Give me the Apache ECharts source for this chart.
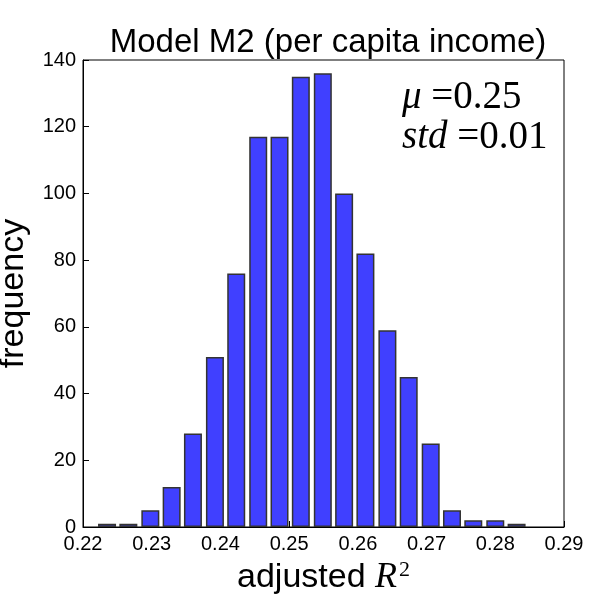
<!DOCTYPE html>
<html><head><meta charset="utf-8">
<script src="https://cdn.jsdelivr.net/npm/echarts@6/dist/echarts.min.js"></script>
<style>html,body{margin:0;padding:0;background:#fff}#c{width:600px;height:600px}</style>
</head><body><div id="c"></div>
<script>
const binCenters = [0.2235,0.2266,0.2298,0.2329,0.2360,0.2392,0.2423,0.2455,0.2486,0.2517,0.2549,0.2580,0.2611,0.2643,0.2674,0.2706,0.2737,0.2768,0.2800,0.2831];
const frequencies = [1,1,5,12,28,51,76,117,117,135,136,100,82,59,45,25,5,2,2,1];
const xTicks = [0.22,0.23,0.24,0.25,0.26,0.27,0.28,0.29];
const yTicks = [0,20,40,60,80,100,120,140];
const titleText = 'Model M2 (per capita income)';
const statsMu = '0.25';
const statsStd = '0.01';

const chart = echarts.init(document.getElementById('c'), null, {renderer:'canvas'});
const sans = 'Liberation Sans, Arial, sans-serif';
const serif = 'Liberation Serif, DejaVu Serif, serif';
chart.setOption({
  animation:false,
  backgroundColor:'#fff',
  title:{text:titleText,left:323,top:21,textAlign:'center',
    textStyle:{fontFamily:sans,fontSize:33,fontWeight:'normal',color:'#000'}},
  grid:{left:83,right:36,top:60,bottom:73,show:true,borderColor:'#000',borderWidth:1,backgroundColor:'transparent',
    containLabel:false,outerBoundsMode:'none'},
  xAxis:{type:'value',min:xTicks[0],max:xTicks[xTicks.length-1],interval:0.01,
    axisLine:{show:true,onZero:false,lineStyle:{color:'#000',width:1}},
    axisTick:{show:true,inside:true,length:6,lineStyle:{color:'#000'}},
    splitLine:{show:false},
    axisLabel:{fontFamily:sans,fontSize:20,color:'#000',margin:7,formatter:v=>v.toFixed(2)},
    name:'{a|adjusted }{r|R}{s|2}',nameLocation:'middle',nameGap:24,
    nameTextStyle:{rich:{
      a:{fontFamily:sans,fontSize:34,color:'#000'},
      r:{fontFamily:serif,fontStyle:'italic',fontSize:36,color:'#000'},
      s:{fontFamily:serif,fontSize:22,color:'#000',verticalAlign:'bottom',padding:[0,0,16,2]}
    }}},
  yAxis:{type:'value',min:yTicks[0],max:yTicks[yTicks.length-1],interval:20,
    axisLine:{show:true,lineStyle:{color:'#000',width:1}},
    axisTick:{show:true,inside:true,length:6,lineStyle:{color:'#000'}},
    splitLine:{show:false},
    axisLabel:{fontFamily:sans,fontSize:20,color:'#000',margin:7},
    name:'frequency',nameLocation:'middle',nameGap:52,
    nameTextStyle:{fontFamily:sans,fontSize:34,color:'#000'}},
  graphic:[
    {type:'text',left:402,top:78,style:{
      text:'{i|μ}{n| =0.25}'.replace('0.25',statsMu),
      rich:{i:{fontFamily:serif,fontStyle:'italic',fontSize:39,fill:'#000'},
            n:{fontFamily:serif,fontSize:39,fill:'#000'}}}},
    {type:'text',left:402,top:118,style:{
      text:'{i|std}{n| =0.01}'.replace('0.01',statsStd),
      rich:{i:{fontFamily:serif,fontStyle:'italic',fontSize:39,fill:'#000'},
            n:{fontFamily:serif,fontSize:39,fill:'#000'}}}}
  ],
  series:[{type:'bar',data:binCenters.map((x,i)=>[x,frequencies[i]]),
    barWidth:18,
    itemStyle:{color:'#4040FF',borderColor:'#333333',borderWidth:1.5}}]
});
</script></body></html>
